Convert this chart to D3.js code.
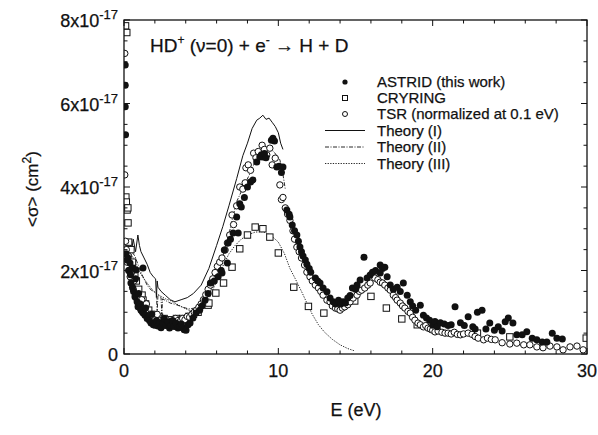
<!DOCTYPE html>
<html><head><meta charset="utf-8">
<script src="https://cdn.jsdelivr.net/npm/d3@7"></script>
<style>
html,body{margin:0;padding:0;background:#fff;}
svg text{font-family:"Liberation Sans",Arial,Helvetica,sans-serif;fill:#111;stroke:#111;stroke-width:0.25px;}
</style></head>
<body><svg id="c" width="598" height="435"></svg>
<script>
// Cross sections in units of 1e-17 cm^2, energy in eV
const xTicks = [0, 10, 20, 30];
const xTickLabels = ["0", "10", "20", "30"];
const yTicks = [0, 2, 4, 6, 8];
const yTickLabels = ["0", "2x10", "4x10", "6x10", "8x10"];
const yTickExp = ["", "-17", "-17", "-17", "-17"];
const legendLabels = ["ASTRID (this work)", "CRYRING", "TSR (normalized at 0.1 eV)", "Theory (I)", "Theory (II)", "Theory (III)"];

const astrid = [[0.08,6.92],[0.08,6.44],[0.08,5.92],[0.1,5.25],
[0.13,2.4],[0.2,2.25],[0.26,2.3],[0.3,2.0],[0.39,2.18],[0.42,1.9],[0.45,1.7],[0.5,2.05],[0.55,1.6],[0.58,2.06],[0.62,1.5],[0.71,1.37],[0.75,1.8],[0.78,2.01],[0.85,1.25],[0.91,1.13],[0.95,1.45],[1.05,1.2],[1.1,1.05],[1.23,2.06],[1.25,0.98],[1.36,0.93],[1.4,1.1],[1.5,0.85],[1.56,0.86],[1.65,0.8],[1.75,0.74],[1.8,0.95],[1.9,0.7],[2.0,0.69],[2.1,0.8],[2.2,0.67],[2.3,0.75],[2.4,0.63],[2.53,0.74],[2.6,0.85],[2.7,0.68],[2.85,0.77],[2.95,0.62],[3.05,0.69],[3.15,0.8],[3.25,0.66],[3.37,0.74],[3.5,0.62],[3.63,0.65],[3.72,0.72],[3.82,0.62],[3.9,0.58],[4.02,0.57],[4.15,0.7],[4.28,0.74],[4.47,0.86],[4.67,0.98],[4.9,1.05],[5.05,1.15],[5.25,1.29],[5.45,1.45],[5.6,1.7],[5.85,1.75],[6.1,1.85],[6.3,2.0],[6.35,1.94],[6.5,2.49],[6.7,2.18],[6.75,2.66],[6.9,2.75],[7.07,2.9],[7.3,3.28],[7.4,2.9],[7.5,3.6],[7.6,3.52],[7.8,3.75],[8.0,4.0],[8.2,4.12],[8.35,4.17],[8.6,4.6],[8.8,4.72],[8.9,4.77],[9.0,4.72],[9.1,4.8],[9.2,4.7],[9.55,5.12],[9.65,5.17],[9.75,5.1],[9.9,4.48],[10.05,4.5],[10.3,4.48],[10.2,4.35],[10.55,3.45],[10.7,3.35],[10.75,3.28],[10.9,3.09],[11.05,2.95],[11.2,2.85],[11.3,2.7],[11.4,2.56],[11.5,2.45],[11.6,2.35],[11.75,2.25],[11.85,2.15],[12.0,2.05],[12.1,1.96],[12.4,1.82],[12.55,1.75],[12.7,1.7],[12.9,1.58],[13.15,1.49],[13.35,1.34],[13.55,1.25],[13.7,1.2],[13.9,1.29],[14.05,1.2],[14.2,1.25],[14.35,1.22],[14.5,1.34],[14.65,1.4],[14.8,1.58],[15.0,1.55],[15.1,1.65],[15.3,1.77],[15.55,2.32],[15.75,1.82],[15.95,1.89],[16.1,1.96],[16.3,2.0],[16.6,2.13],[16.75,2.05],[16.9,2.08],[16.6,1.94],[17.05,1.85],[17.25,1.65],[17.45,1.55],[17.7,1.6],[17.9,1.5],[18.1,1.7],[18.35,1.41],[18.55,1.25],[18.7,1.15],[18.9,1.05],[19.2,1.17],[19.4,0.93],[19.6,0.86],[19.8,0.81],[20.0,0.69],[20.15,0.78],[20.3,0.65],[20.5,0.75],[20.75,0.72],[21.0,0.68],[21.2,0.7],[21.45,1.13],[21.8,0.75],[22.05,0.68],[22.3,0.89],[22.6,0.65],[22.75,0.6],[22.9,1.0],[23.2,1.05],[23.45,0.6],[23.7,0.74],[24.0,0.57],[24.25,0.65],[24.5,0.55],[24.7,0.77],[24.9,0.86],[25.2,0.74],[25.45,0.46],[25.8,0.46],[26.1,0.53],[26.45,0.38],[26.75,0.34],[27.1,0.29],[27.4,0.29],[27.75,0.5],[28.05,0.38],[28.4,0.36]];

const cryring = [[0.1,7.86],[0.18,7.7],[0.12,3.76],[0.15,3.64],[0.2,3.45],[0.25,3.5],[0.26,3.14],[0.3,2.68],[0.45,2.5],[0.55,2.2],[0.7,1.9],[0.8,1.75],[0.95,1.55],[1.1,1.37],[1.17,1.41],[1.23,1.29],[1.4,1.2],[1.6,1.05],[1.8,0.95],[2.0,0.9],[2.3,0.88],[2.6,0.85],[3.0,0.82],[3.4,0.85],[3.8,0.85],[4.2,0.9],[4.5,0.95],[4.8,1.0],[5.45,1.17],[5.5,1.22],[5.95,1.46],[6.45,1.7],[7.0,2.08],[7.5,2.52],[8.0,2.85],[8.5,3.04],[9.0,3.0],[9.45,2.8],[10.0,2.42],[11.0,1.6],[11.95,1.14],[12.95,0.98],[14.95,1.27],[16.0,1.38],[17.0,1.1],[18.0,0.84],[19.0,0.7],[20.0,0.6],[22.9,0.5],[25.0,0.41],[29.95,0.38]];

const tsr = [[0.05,7.2],[0.05,4.29],[0.1,2.7],[0.15,2.5],[0.2,2.2],[0.28,2.35],[0.32,2.0],[0.4,1.85],[0.48,1.95],[0.5,1.7],[0.6,1.55],[0.65,1.75],[0.75,1.4],[0.85,1.3],[0.95,1.2],[1.05,1.1],[1.15,1.3],[1.2,1.0],[1.35,0.95],[1.45,1.2],[1.55,0.9],[1.7,0.88],[1.85,0.85],[2.0,0.82],[2.15,0.95],[2.3,0.8],[2.45,0.77],[2.6,0.7],[2.75,0.82],[2.9,0.75],[3.05,0.78],[3.2,0.72],[3.35,0.85],[3.5,0.8],[3.65,0.78],[3.8,0.85],[3.95,0.82],[4.1,0.9],[4.25,0.88],[4.4,0.95],[4.55,1.0],[4.7,1.05],[4.85,1.12],[5.0,1.2],[5.15,1.3],[5.3,1.42],[5.45,1.55],[5.6,1.65],[5.75,1.8],[5.9,1.95],[6.05,2.1],[6.2,2.2],[6.35,2.3],[6.55,2.49],[6.7,2.66],[6.85,2.85],[7.0,3.33],[7.1,3.1],[7.3,3.55],[7.5,4.0],[7.7,3.95],[7.85,4.1],[7.9,4.46],[8.05,4.53],[8.2,4.4],[8.4,4.81],[8.55,4.7],[8.7,4.85],[8.95,5.0],[9.1,4.9],[9.25,4.77],[9.45,4.93],[9.6,4.53],[9.8,4.69],[10.1,4.05],[10.2,3.7],[10.3,3.75],[10.45,3.5],[10.6,3.35],[10.75,3.2],[10.95,2.95],[11.05,2.75],[11.2,2.56],[11.35,2.45],[11.5,2.3],[11.7,2.13],[11.85,1.96],[12.05,1.85],[12.2,1.75],[12.4,1.65],[12.6,1.58],[12.75,1.5],[12.9,1.41],[13.15,1.29],[13.35,1.25],[13.5,1.15],[13.7,1.1],[13.85,1.08],[14.0,1.05],[14.15,1.1],[14.3,1.13],[14.5,1.18],[14.65,1.25],[14.85,1.34],[15.1,1.41],[15.25,1.5],[15.4,1.53],[15.6,1.58],[15.8,1.65],[15.95,1.7],[16.15,1.94],[16.25,1.82],[16.45,1.78],[16.6,1.72],[16.75,1.7],[16.9,1.65],[17.1,1.58],[17.25,1.53],[17.45,1.41],[17.6,1.35],[17.7,1.29],[17.9,1.22],[18.05,1.15],[18.2,1.1],[18.4,1.02],[18.55,0.98],[18.7,0.88],[18.85,0.81],[19.05,0.74],[19.2,0.7],[19.4,0.65],[19.55,0.68],[19.7,0.62],[19.85,0.6],[20.0,0.57],[20.15,0.53],[20.35,0.55],[20.6,0.52],[20.8,0.5],[21.0,0.5],[21.2,0.48],[21.4,0.52],[21.6,0.47],[21.8,0.46],[22.0,0.48],[22.3,0.5],[22.55,0.47],[22.75,0.42],[22.95,0.38],[23.3,0.34],[23.55,0.38],[23.8,0.35],[24.05,0.34],[24.5,0.27],[25.0,0.24],[25.45,0.26],[25.9,0.22],[26.3,0.22],[26.75,0.17],[27.15,0.15],[27.6,0.19],[28.05,0.17],[28.45,0.1],[28.9,0.17],[29.35,0.19],[29.75,0.1]];

const theory1 = [[0.05,2.7],[0.2,2.55],[0.35,2.7],[0.5,2.5],[0.6,2.75],[0.75,2.45],[0.9,2.85],[1.0,2.6],[1.1,2.45],[1.3,2.3],[1.5,2.15],[1.7,1.95],[1.9,1.85],[2.05,1.8],[2.1,1.35],[2.15,1.75],[2.2,1.6],[2.4,1.5],[2.7,1.4],[3.0,1.3],[3.3,1.25],[3.7,1.3],[4.1,1.35],[4.5,1.45],[5.0,1.65],[5.5,2.05],[6.0,2.6],[6.4,3.05],[6.8,3.55],[7.3,4.2],[7.7,4.75],[8.0,5.05],[8.3,5.4],[8.6,5.6],[8.8,5.65],[9.0,5.72],[9.2,5.62],[9.4,5.65],[9.6,5.55],[9.8,5.45],[10.0,5.3],[10.15,5.05],[10.3,4.9]];

const theory2 = [[0.3,2.6],[0.5,2.45],[0.7,2.35],[0.9,2.15],[1.1,1.95],[1.3,1.8],[1.5,1.65],[1.7,1.55],[1.9,1.5],[2.1,1.45],[2.15,1.0],[2.2,1.42],[2.4,1.35],[2.45,0.95],[2.5,1.32],[2.7,1.28],[3.0,1.22],[3.4,1.18],[3.8,1.12],[4.2,1.08],[4.6,1.1],[5.0,1.2],[5.4,1.45],[5.8,1.75],[6.2,2.1],[6.7,2.7],[7.0,3.2],[7.3,3.65],[7.8,4.05],[8.2,4.35],[8.6,4.7],[9.0,4.85],[9.3,4.95],[9.7,4.85],[10.1,4.65],[10.3,4.3],[10.45,3.95]];

const theory3 = [[0.3,2.5],[0.6,2.3],[0.9,2.05],[1.2,1.85],[1.5,1.7],[1.8,1.55],[2.1,1.45],[2.4,1.38],[2.7,1.32],[3.0,1.28],[3.4,1.2],[3.8,1.12],[4.2,1.05],[4.6,1.02],[5.0,1.05],[5.3,1.2],[5.6,1.4],[6.0,1.75],[6.4,2.1],[6.8,2.4],[7.2,2.6],[7.6,2.75],[8.0,2.85],[8.5,2.92],[9.0,2.93],[9.5,2.85],[10.0,2.68],[10.4,2.4],[10.75,2.05],[11.1,1.8],[11.5,1.5],[11.85,1.22],[12.2,0.95],[12.6,0.7],[13.0,0.52],[13.5,0.35],[14.0,0.22],[14.5,0.13],[14.9,0.08]];

const svg = d3.select("#c");
const L = 124, R = 587, T = 20, B = 354;
const x = d3.scaleLinear().domain([0, 30]).range([L, R]);
const y = d3.scaleLinear().domain([0, 8]).range([B, T]);
const ink = "#111";

svg.append("clipPath").attr("id","clip").append("rect")
  .attr("x", L).attr("y", T).attr("width", R - L).attr("height", B - T);
const plot = svg.append("g").attr("clip-path", "url(#clip)");

const line = d3.line().x(d => x(d[0])).y(d => y(d[1]));
plot.append("path").datum(theory1).attr("d", line).attr("fill","none").attr("stroke",ink).attr("stroke-width",1);
plot.append("path").datum(theory2).attr("d", line).attr("fill","none").attr("stroke",ink).attr("stroke-width",0.9).attr("stroke-dasharray","4,1.5,1,1.5");
plot.append("path").datum(theory3).attr("d", line).attr("fill","none").attr("stroke",ink).attr("stroke-width",0.9).attr("stroke-dasharray","1.3,1.3");

const sq = 6.4;
plot.selectAll(".sq").data(cryring).enter().append("rect")
  .attr("x", d => x(d[0]) - sq/2).attr("y", d => y(d[1]) - sq/2)
  .attr("width", sq).attr("height", sq)
  .attr("fill","#fff").attr("stroke",ink).attr("stroke-width",1);
plot.selectAll(".oc").data(tsr).enter().append("circle")
  .attr("cx", d => x(d[0])).attr("cy", d => y(d[1])).attr("r", 3.2)
  .attr("fill","#fff").attr("stroke",ink).attr("stroke-width",1);
plot.selectAll(".fc").data(astrid).enter().append("circle")
  .attr("cx", d => x(d[0])).attr("cy", d => y(d[1])).attr("r", 3.5)
  .attr("fill",ink);

svg.append("rect").attr("x",L).attr("y",T).attr("width",R-L).attr("height",B-T)
  .attr("fill","none").attr("stroke",ink).attr("stroke-width",1.3);

const ax = svg.append("g").attr("stroke", ink).attr("stroke-width", 1);
const xMinor = d3.range(0, 31, 2);
xMinor.forEach(v => {
  const len = (v % 10 === 0) ? 6 : 3.5;
  ax.append("line").attr("x1",x(v)).attr("x2",x(v)).attr("y1",B).attr("y2",B-len);
  ax.append("line").attr("x1",x(v)).attr("x2",x(v)).attr("y1",T).attr("y2",T+len);
});
const yMinor = d3.range(0, 8.01, 0.5);
yMinor.forEach(v => {
  const len = (v % 2 === 0) ? 6 : 3.5;
  ax.append("line").attr("x1",L).attr("x2",L+len).attr("y1",y(v)).attr("y2",y(v));
  ax.append("line").attr("x1",R).attr("x2",R-len).attr("y1",y(v)).attr("y2",y(v));
});

xTicks.forEach((v, i) => {
  svg.append("text").attr("x", x(v)).attr("y", 377).attr("text-anchor","middle")
    .attr("font-size", 18).text(xTickLabels[i]);
});
yTicks.forEach((v, i) => {
  const t = svg.append("text").attr("x", 118).attr("y", y(v) + 7).attr("text-anchor","end").attr("font-size", 18);
  t.append("tspan").text(yTickLabels[i]);
  if (yTickExp[i]) t.append("tspan").attr("font-size", 13).attr("dy", -8).text(yTickExp[i]);
});

const tt = svg.append("text").attr("x", 150).attr("y", 52).attr("font-size", 19);
tt.append("tspan").text("HD");
tt.append("tspan").attr("font-size", 12).attr("dy", -8).text("+");
tt.append("tspan").attr("dy", 8).text(" (\u03bd=0) + e");
tt.append("tspan").attr("font-size", 12).attr("dy", -8).text("-");
tt.append("tspan").attr("dy", 8).text(" \u2192 H + D");

svg.append("text").attr("x", 356).attr("y", 416).attr("text-anchor","middle").attr("font-size", 18).text("E (eV)");
const yl = svg.append("text").attr("transform","translate(38,189) rotate(-90)").attr("text-anchor","middle").attr("font-size", 17);
yl.append("tspan").text("<\u03c3> (cm");
yl.append("tspan").attr("font-size", 12).attr("dy", -7).text("2");
yl.append("tspan").attr("dy", 7).text(")");

const lg = svg.append("g");
const ly = [82, 98, 114, 130.5, 147, 163.5];
lg.append("circle").attr("cx",345).attr("cy",ly[0]).attr("r",2.6).attr("fill",ink);
lg.append("rect").attr("x",342.5).attr("y",ly[1]-2.5).attr("width",5).attr("height",5).attr("fill","#fff").attr("stroke",ink);
lg.append("circle").attr("cx",345).attr("cy",ly[2]).attr("r",2.5).attr("fill","#fff").attr("stroke",ink);
lg.append("line").attr("x1",325).attr("x2",365).attr("y1",ly[3]).attr("y2",ly[3]).attr("stroke",ink);
lg.append("line").attr("x1",325).attr("x2",365).attr("y1",ly[4]).attr("y2",ly[4]).attr("stroke",ink).attr("stroke-width",0.9).attr("stroke-dasharray","4,1.5,1,1.5");
lg.append("line").attr("x1",325).attr("x2",365).attr("y1",ly[5]).attr("y2",ly[5]).attr("stroke",ink).attr("stroke-width",0.9).attr("stroke-dasharray","1.3,1.3");
legendLabels.forEach((s, i) => {
  lg.append("text").attr("x", 377).attr("y", ly[i] + 5).attr("font-size", 15).text(s);
});
</script></body></html>
